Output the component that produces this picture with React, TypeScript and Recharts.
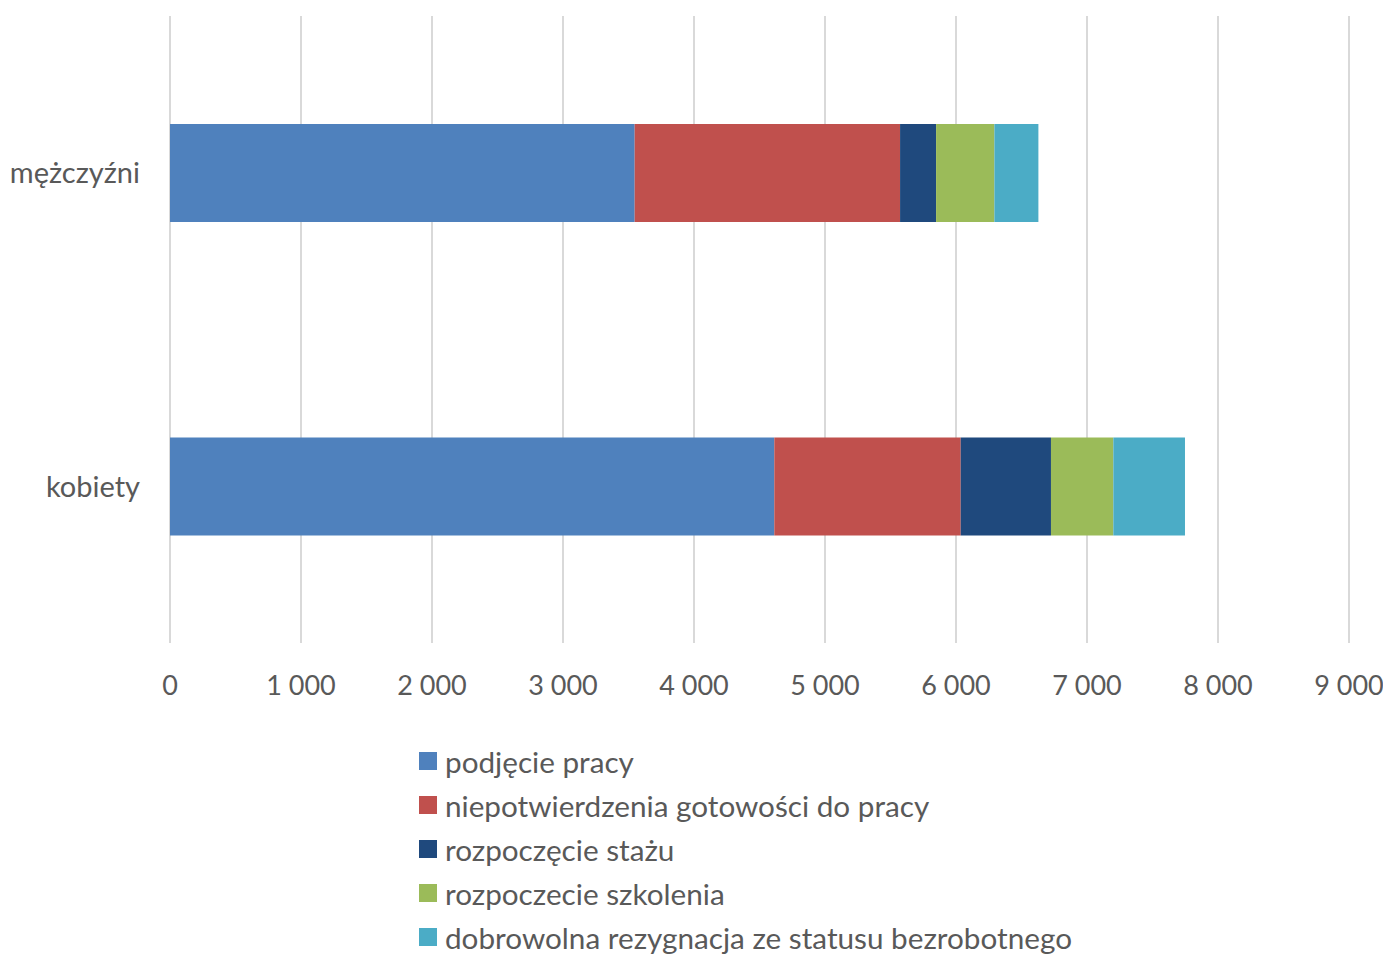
import React from 'react';
import { BarChart, Bar, XAxis, YAxis, CartesianGrid } from 'recharts';

const categories = ['mężczyźni', 'kobiety'];
const podjeciePracy = [3547, 4613];
const niepotwierdzenia = [2026, 1423];
const rozpoczecieStazu = [275, 689];
const rozpoczecieSzkolenia = [445, 476];
const rezygnacja = [336, 547];
const xTicks = [0, 1000, 2000, 3000, 4000, 5000, 6000, 7000, 8000, 9000];

const series = [
  { key: 'podjecie', name: 'podjęcie pracy', values: podjeciePracy, color: '#4f81bd' },
  { key: 'niepotw', name: 'niepotwierdzenia gotowości do pracy', values: niepotwierdzenia, color: '#c0504d' },
  { key: 'staz', name: 'rozpoczęcie stażu', values: rozpoczecieStazu, color: '#1f497d' },
  { key: 'szkolenie', name: 'rozpoczecie szkolenia', values: rozpoczecieSzkolenia, color: '#9bbb59' },
  { key: 'rezygnacja', name: 'dobrowolna rezygnacja ze statusu bezrobotnego', values: rezygnacja, color: '#4bacc6' },
];

const data = categories.map((name, i) => {
  const row: Record<string, string | number> = { name };
  series.forEach((s) => {
    row[s.key] = s.values[i];
  });
  return row;
});

const FONT = 'Lato, "Open Sans", sans-serif';
const TEXT = '#595959';

// "1000" -> "1 000"
const fmt = (v: number) => String(v).replace(/\B(?=(\d{3})+(?!\d))/g, ' ');

export default function App() {
  return (
    <div style={{ fontFamily: FONT }}>
      <BarChart
        width={1383}
        height={712}
        data={data}
        layout="vertical"
        margin={{ top: 8, right: 42, left: 12, bottom: 17 }}
        barSize={98}
      >
        <CartesianGrid horizontal={false} stroke="#d9d9d9" strokeWidth={2} />
        <XAxis
          type="number"
          domain={[0, 9000]}
          ticks={xTicks}
          interval={0}
          tickFormatter={fmt}
          axisLine={false}
          tickLine={false}
          tickMargin={27}
          height={60}
          tick={{ fill: TEXT, fontSize: 27, fontFamily: FONT }}
        />
        <YAxis
          type="category"
          dataKey="name"
          width={150}
          axisLine={false}
          tickLine={false}
          tickMargin={24}
          tick={{ fill: TEXT, fontSize: 29, fontFamily: FONT }}
        />
        {series.map((s) => (
          <Bar key={s.key} dataKey={s.key} name={s.name} stackId="a" fill={s.color} isAnimationActive={false} />
        ))}
      </BarChart>
      <div style={{ marginTop: 19, paddingLeft: 411 }}>
        {series.map((s) => (
          <div key={s.key} style={{ height: 44, display: 'flex', alignItems: 'center', color: TEXT, fontSize: 29.7 }}>
            <span style={{ width: 18, height: 18, background: s.color, marginRight: 8, display: 'inline-block', flexShrink: 0 }} />
            <span>{s.name}</span>
          </div>
        ))}
      </div>
    </div>
  );
}
